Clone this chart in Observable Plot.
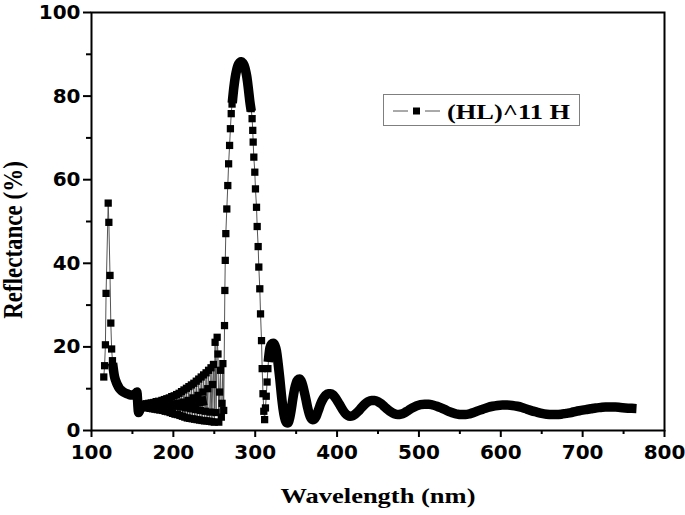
<!DOCTYPE html>
<html><head><meta charset="utf-8">
<script src="https://cdn.jsdelivr.net/npm/d3@7"></script>
<script src="https://cdn.jsdelivr.net/npm/@observablehq/plot@0.6"></script>
<style>
body{margin:0;background:#fff;}
#wrap{position:relative;width:685px;height:515px;overflow:hidden;}
#legend{position:absolute;left:383px;top:94px;}
</style></head><body><div id="wrap"></div>
<script>
// ---- tick values ----
const xMajor = [100, 200, 300, 400, 500, 600, 700, 800];
const xMinor = [150, 250, 350, 450, 550, 650, 750];
const yMajor = [0, 20, 40, 60, 80, 100];
const yMinor = [10, 30, 50, 70, 90];
const seriesName = "(HL)^11 H";
const xTitle = "Wavelength (nm)";
const yTitle = "Reflectance (%)";

// ---- individually visible square markers (wavelength nm, reflectance %) ----
const squareWl = [
  115.0, 116.0, 117.0, 117.8, 120.4, 121.2, 122.6, 123.6, 124.6, 125.6,
  161, 162.5, 164, 165.5, 167, 168.5, 170, 171.5, 173, 174.5, 176, 177.5, 179, 180.5, 182, 183.5,
  186, 187, 188, 189, 190, 191, 192, 193, 194, 195, 196, 197, 198, 199, 200, 201, 202, 203, 204, 205,
  206, 207, 208, 209, 210, 211, 212, 213, 214, 215, 216, 217, 218, 219, 220, 221, 222, 223, 224, 225,
  226, 227, 228, 229, 230, 231, 232, 233, 234, 235, 236, 237, 238, 239, 240, 241, 242, 243, 244, 245,
  246, 247, 248, 249, 250,
  251, 252.2, 253.5, 254.5, 255.5, 256.5, 257.6, 258.6, 259.5, 260.5, 261.5,
  262.5, 262.9, 263.4, 264.1, 265.3, 266.5, 267.5, 268.7, 269.7, 270.7, 271.7,
  295.1, 296.2, 297.0, 297.5, 298.3, 299.5, 300.3, 301.6, 302.4, 303.6, 304.4, 305.6,
  306.5, 307.7, 308.5, 309.5, 310.5, 311.5, 312.5, 313.5, 314.5, 315.5
];
const squareR = [
  12.8, 15.5, 20.5, 32.8, 54.4, 49.8, 37.1, 25.7, 19.5, 16.7,
  6.2, 5.6, 6.3, 5.5, 6.4, 5.4, 6.5, 5.3, 6.6, 5.2, 6.7, 5.1, 6.9, 5.0, 7.0, 4.9,
  7.2, 4.8, 6.1, 7.4, 4.6, 6.0, 7.6, 4.5, 6.2, 7.8, 4.3, 5.9, 8.1, 4.1, 6.3, 8.3, 3.9, 5.8, 8.6, 3.8,
  6.5, 8.9, 3.6, 5.6, 9.3, 3.4, 6.8, 9.7, 3.2, 5.4, 10.1, 3.0, 7.2, 10.5, 2.9, 5.2, 10.9, 2.8, 7.8, 11.3,
  2.7, 5.0, 11.8, 2.6, 8.4, 12.3, 2.5, 4.8, 12.8, 2.4, 9.2, 13.3, 2.3, 4.6, 13.8, 2.3, 10.0, 14.4, 2.2, 4.4,
  15.0, 2.1, 11.0, 15.8, 2.0,
  21.1, 4.3, 22.3, 18.3, 2.0, 9.2, 14.4, 3.2, 6.5, 16.0, 4.8,
  25.1, 33.5, 40.7, 47.1, 53.0, 58.6, 63.8, 68.2, 72.2, 75.8, 78.1,
  77.0, 74.6, 71.8, 69.0, 65.4, 61.8, 57.8, 53.4, 48.8, 44.0, 39.1, 33.9,
  27.9, 21.5, 14.8, 8.8, 4.6, 2.6, 5.4, 8.2, 11.6, 14.8
];

// ---- stretches where the markers merge into a continuous band ----
const band1Wl = [126.5, 128, 130, 132, 134, 137, 140, 143, 146, 149, 152, 154, 155.5, 156.2, 156.8, 157.5, 158.5, 159.5, 162, 166, 170, 175, 180, 185, 190, 195, 200, 205, 210, 215, 220, 225, 230, 235];
const band1R  = [15.0, 13.0, 11.7, 10.8, 10.1, 9.5, 9.1, 8.8, 8.6, 8.5, 8.6, 8.9, 9.2, 7.5, 5.5, 4.3, 4.6, 5.3, 5.8, 5.9, 5.9, 5.9, 6.0, 6.0, 6.0, 6.1, 6.1, 6.2, 6.3, 6.4, 6.5, 6.6, 6.8, 7.0];

const band2Wl = [272.5, 273.5, 274.5, 275.5, 276.5, 277.5, 278.5, 279.5, 280.5, 281.5, 282.5, 283.5, 284.5, 285.5, 286.5, 287.5, 288.5, 289.5, 290.5, 291.5, 292.5, 293.5, 294.3];
const band2R  = [79.5, 81.4, 83.0, 84.4, 85.5, 86.4, 87.1, 87.6, 87.9, 88.1, 88.2, 88.2, 88.0, 87.7, 87.3, 86.7, 85.9, 84.9, 83.6, 82.0, 80.3, 78.6, 77.5];

const band3Wl = [316.5, 318, 320, 322, 324, 326, 328, 330, 332, 334, 336, 338, 340, 342, 344, 346, 348, 350, 352, 354, 356, 358, 360, 362, 364, 366, 368, 370, 372, 374, 376, 378, 380, 383, 386, 389, 392, 395, 398, 401, 404, 407, 410, 413, 416, 419, 422, 426, 430, 434, 438, 442, 446, 450, 454, 458, 462, 466, 470, 474, 478, 482, 487, 492, 497, 502, 507, 512, 517, 522, 527, 532, 537, 542, 547, 552, 557, 562, 567, 572, 578, 584, 590, 596, 602, 608, 614, 620, 626, 632, 638, 644, 650, 656, 662, 668, 674, 680, 686, 692, 698, 704, 710, 716, 722, 728, 734, 740, 746, 752, 760];
const band3R  = [17.5, 19.8, 20.7, 20.9, 20.4, 19.0, 16.0, 12.5, 8.5, 5.2, 3.0, 1.9, 1.8, 2.9, 5.0, 7.6, 9.8, 11.3, 12.1, 12.3, 11.9, 10.8, 9.2, 7.4, 5.5, 4.0, 3.0, 2.6, 2.7, 3.2, 4.2, 5.3, 6.4, 7.6, 8.4, 8.8, 8.8, 8.5, 7.8, 6.9, 5.9, 4.9, 4.1, 3.6, 3.4, 3.5, 3.9, 4.6, 5.5, 6.3, 6.9, 7.2, 7.2, 6.9, 6.4, 5.7, 5.0, 4.4, 4.0, 3.8, 3.9, 4.2, 4.8, 5.4, 5.9, 6.2, 6.3, 6.3, 6.1, 5.8, 5.4, 5.0, 4.5, 4.2, 3.9, 3.8, 3.8, 4.0, 4.3, 4.7, 5.1, 5.5, 5.8, 6.0, 6.1, 6.1, 6.0, 5.8, 5.5, 5.1, 4.7, 4.4, 4.1, 3.9, 3.8, 3.8, 3.9, 4.1, 4.3, 4.6, 4.8, 5.0, 5.2, 5.4, 5.5, 5.6, 5.6, 5.6, 5.5, 5.4, 5.3];

// ---- build tables ----
const squares = squareWl.map((w, i) => ({wl: w, r: squareR[i]}));
const bands = [
  ...band1Wl.map((w, i) => ({wl: w, r: band1R[i], seg: 1})),
  ...band2Wl.map((w, i) => ({wl: w, r: band2R[i], seg: 2})),
  ...band3Wl.map((w, i) => ({wl: w, r: band3R[i], seg: 3}))
];
const all = [...squares, ...bands.filter(d => !(d.seg === 1 && d.wl > 160))].sort((a, b) => a.wl - b.wl);

const tickFont = {fontSize: 20, fontWeight: "bold", fontFamily: "DejaVu Sans"};

const chart = Plot.plot({
  width: 685, height: 515,
  marginLeft: 91, marginRight: 21, marginTop: 12, marginBottom: 85,
  style: {background: "#fff", color: "#000", overflow: "visible"},
  x: {domain: [100, 800]},
  y: {domain: [0, 100]},
  marks: [
    Plot.line(all, {x: "wl", y: "r", stroke: "#555", strokeWidth: 1}),
    Plot.line(bands, {x: "wl", y: "r", z: "seg", stroke: "#000", strokeWidth: 9.5, curve: "monotone-x", strokeLinecap: "square", strokeLinejoin: "round"}),
    Plot.dot(squares, {x: "wl", y: "r", symbol: "square", r: 4.1, fill: "#000", stroke: null}),
    Plot.frame({stroke: "#000", strokeWidth: 2}),
    Plot.axisX({ticks: xMajor, tickSize: 7, tickPadding: 7, strokeWidth: 2, label: null, tickFormat: d => String(d), ...tickFont}),
    Plot.axisX({ticks: xMinor, tickSize: 4, strokeWidth: 2, label: null, tickFormat: () => ""}),
    Plot.axisY({ticks: yMajor, tickSize: 8, tickPadding: 3, strokeWidth: 2, label: null, tickFormat: d => String(d), ...tickFont}),
    Plot.axisY({ticks: yMinor, tickSize: 5, strokeWidth: 2, label: null, tickFormat: () => ""}),
    Plot.text([xTitle], {text: d => d, frameAnchor: "bottom", dy: 72, fontSize: 22, fontWeight: "bold", fontFamily: "Liberation Serif"})
  ]
});
document.getElementById("wrap").appendChild(chart);

// horizontally widen the x title like the original figure
d3.select(chart).selectAll("text").filter(function() { return this.textContent === xTitle; })
  .attr("textLength", 195).attr("lengthAdjust", "spacingAndGlyphs");

// y title (rotated, widened across its glyph height like the original)
d3.select(chart).append("text")
  .attr("transform", "translate(22,240) scale(1.15,1) rotate(-90)")
  .attr("text-anchor", "middle")
  .attr("font-family", "Liberation Serif").attr("font-weight", "bold").attr("font-size", 23)
  .attr("fill", "#000")
  .text(yTitle);

// ---- legend ----
const lg = d3.select("#wrap").append("svg").attr("id", "legend").attr("width", 198).attr("height", 33);
lg.append("rect").attr("x", 0.5).attr("y", 0.5).attr("width", 196).attr("height", 31).attr("fill", "#fff").attr("stroke", "#7f7f7f").attr("stroke-width", 1);
lg.append("line").attr("x1", 10).attr("x2", 25).attr("y1", 17).attr("y2", 17).attr("stroke", "#555").attr("stroke-width", 1);
lg.append("line").attr("x1", 42).attr("x2", 57).attr("y1", 17).attr("y2", 17).attr("stroke", "#555").attr("stroke-width", 1);
lg.append("rect").attr("x", 30).attr("y", 13.5).attr("width", 7).attr("height", 7).attr("fill", "#000");
lg.append("text").attr("x", 64).attr("y", 25).attr("font-family", "Liberation Serif").attr("font-weight", "bold").attr("font-size", 22)
  .attr("textLength", 123).attr("lengthAdjust", "spacingAndGlyphs").text(seriesName);
</script>
</body></html>
